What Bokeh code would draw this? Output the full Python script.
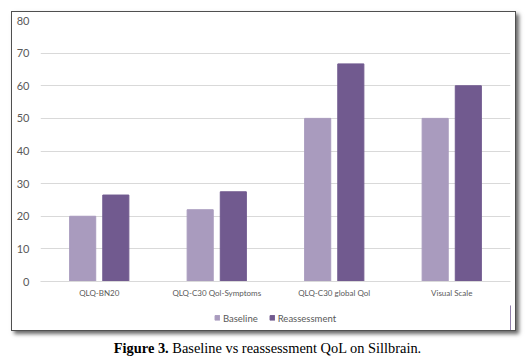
from bokeh.plotting import figure
from bokeh.models import ColumnDataSource, Legend, LegendItem, Div, FactorRange
from bokeh.layouts import column
from bokeh.transform import dodge
from bokeh.embed import file_html
from bokeh.resources import INLINE

categories = ["QLQ-BN20", "QLQ-C30 Qol-Symptoms", "QLQ-C30 global Qol", "Visual Scale"]
baseline = [20, 22, 50, 50]
reassessment = [26.5, 27.5, 66.7, 60]
y_ticks = [0, 10, 20, 30, 40, 50, 60, 70, 80]
series_names = ["Baseline", "Reassessment"]

c_base = "#A99BBE"
c_reas = "#715A8F"

src = ColumnDataSource(dict(cat=categories, base=baseline, reas=reassessment))

p = figure(x_range=FactorRange(*categories), y_range=(0, 80), width=503, height=293,
           output_backend="svg", toolbar_location=None,
           min_border_left=28, min_border_right=5, min_border_top=8, min_border_bottom=24)
p.outline_line_color = None
p.background_fill_color = "white"
p.border_fill_color = "white"
p.margin = 0

r1 = p.vbar(x=dodge("cat", -0.141, range=p.x_range), top="base", width=0.222, source=src,
            fill_color=c_base, line_color=c_base)
r2 = p.vbar(x=dodge("cat", 0.141, range=p.x_range), top="reas", width=0.222, source=src,
            fill_color=c_reas, line_color=c_reas)

p.x_range.range_padding = 0
p.ygrid.grid_line_color = "#D9D9D9"
p.ygrid.grid_line_width = 1
p.xgrid.grid_line_color = None
p.yaxis.ticker = y_ticks
p.yaxis.axis_line_color = None
p.yaxis.major_tick_line_color = None
p.yaxis.minor_tick_line_color = None
p.yaxis.major_tick_out = 0
p.yaxis.major_label_text_font = "Lato"
p.yaxis.major_label_text_font_size = "11px"
p.yaxis.major_label_text_color = "#595959"
p.yaxis.major_label_standoff = 11
p.xaxis.axis_line_color = "#D9D9D9"
p.xaxis.major_tick_line_color = None
p.xaxis.minor_tick_line_color = None
p.xaxis.major_tick_out = 0
p.xaxis.major_label_text_font = "Lato"
p.xaxis.major_label_text_font_size = "8px"
p.xaxis.major_label_text_color = "#595959"
p.xaxis.major_label_standoff = 6

# legend strip (inside the same framed box)
leg = figure(width=503, height=25, output_backend="svg", toolbar_location=None,
             x_axis_location=None, y_axis_location=None,
             min_border=0, x_range=(0, 1), y_range=(0, 1))
leg.outline_line_color = None
leg.grid.visible = False
leg.margin = 0
offscreen = ColumnDataSource(dict(x=[5], top=[5]))
lr1 = leg.vbar(x="x", top="top", width=0.1, source=offscreen, fill_color=c_base, line_color=c_base)
lr2 = leg.vbar(x="x", top="top", width=0.1, source=offscreen, fill_color=c_reas, line_color=c_reas)
legend = Legend(items=[LegendItem(label=series_names[0], renderers=[lr1]),
                       LegendItem(label=series_names[1], renderers=[lr2])],
                orientation="horizontal", location="center",
                label_text_font="Lato", label_text_font_size="9.5px", label_text_color="#595959",
                glyph_width=6, glyph_height=6, label_height=10, label_standoff=3, spacing=11,
                border_line_color=None, background_fill_alpha=0, padding=2, margin=0)
leg.add_layout(legend, "center")

box = column(p, leg, spacing=0, margin=(11, 0, 0, 11),
             styles={"border": "1px solid #505050",
                     "box-shadow": "3px 3px 4px rgba(0,0,0,0.6)",
                     "background-color": "white"})

caption = Div(text='<b>Figure 3.</b> Baseline vs reassessment QoL on Sillbrain.', width=509,
              styles={"font-family": "'Liberation Serif', 'Times New Roman', serif",
                      "font-size": "14.4px", "color": "#000", "text-align": "center",
                      "width": "509px"},
              margin=(7, 0, 0, 13))

layout = column(box, caption, spacing=0)
open("out.html", "w").write(file_html(layout, INLINE))
